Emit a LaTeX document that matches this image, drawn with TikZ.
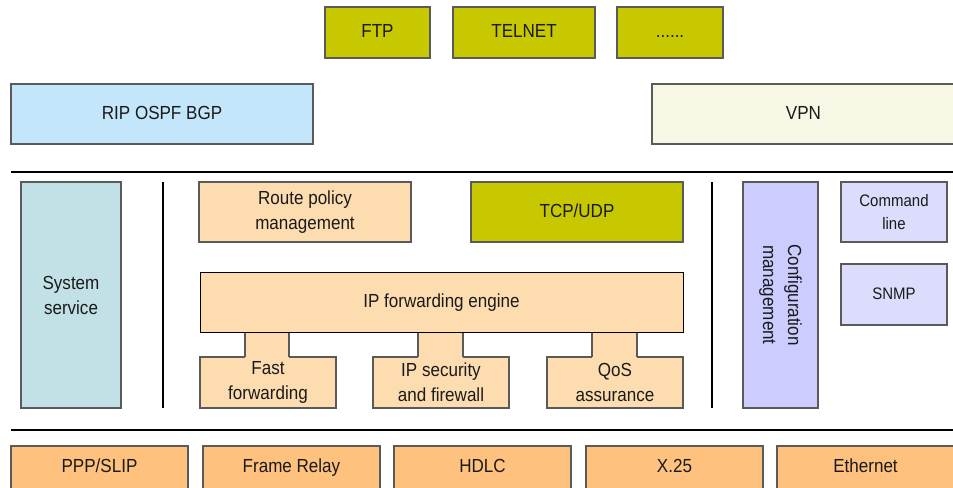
\documentclass[tikz,border=0pt]{standalone}
\usepackage{fontspec}
\setmainfont{Liberation Sans}[FakeStretch=0.9]
\definecolor{olive}{HTML}{C8C800}
\definecolor{ripblue}{HTML}{C4E6FA}
\definecolor{vpnc}{HTML}{F8F7E6}
\definecolor{sysc}{HTML}{C2E1E6}
\definecolor{peach}{HTML}{FDDDB0}
\definecolor{cfgc}{HTML}{CCCCFF}
\definecolor{cmdc}{HTML}{DCDCFC}
\definecolor{orng}{HTML}{FFC17E}
\definecolor{bord}{HTML}{5A5A5A}
\definecolor{txt}{HTML}{1A1A1A}
\tikzset{
  box/.style={draw=bord, line width=0.8pt, inner sep=0pt, align=center, text=txt,
    font=\fontsize{14.2}{18.75}\selectfont},
  small/.style={font=\fontsize{12.5}{17}\selectfont},
  one/.style={text height=0.82em, text depth=0pt},
  sep/.style={line width=1.6pt, black},
  wh/.style 2 args={minimum width={#1*0.75pt}, minimum height={#2*0.75pt}},
}
\begin{document}
\begin{tikzpicture}[x=0.75pt, y=-0.75pt]
\useasboundingbox (0,0) rectangle (953,487);
\clip (0,0) rectangle (953,487);
% top applications
\node[box, one, fill=olive, wh={105}{51}] (ftp) at (377.5,32.5) {FTP};
\node[box, one, fill=olive, wh={142}{51}] (telnet) at (524,32.5) {TELNET};
\node[box, one, fill=olive, wh={106}{51}] (more) at (670,32.5) {......};
% routing / vpn
\node[box, one, fill=ripblue, wh={302}{60}] (rip) at (162,114) {RIP OSPF BGP};
\node[box, one, fill=vpnc, wh={303}{60}] (vpn) at (803.5,114) {VPN};
% separator lines
\coordinate (l1a) at (11,172); \coordinate (l1b) at (960,172);
\draw[sep] (l1a) -- (l1b);
\coordinate (l2a) at (11,430); \coordinate (l2b) at (960,430);
\draw[sep] (l2a) -- (l2b);
\coordinate (v1a) at (163,182); \coordinate (v1b) at (163,408);
\draw[sep] (v1a) -- (v1b);
\coordinate (v2a) at (712,182); \coordinate (v2b) at (712,408);
\draw[sep] (v2a) -- (v2b);
% middle
\node[box, fill=sysc, wh={100}{226}] (sys) at (71,295) {System\\service};
\node[box, fill=peach, wh={212}{60}] (rpm) at (305,212) {Route policy\\management};
\node[box, one, fill=olive, wh={212}{60}] (tcp) at (577,212) {TCP/UDP};
\node[box, fill=cfgc, wh={75}{226}] (cfg) at (780.5,295) {};
\node[text=txt, font=\fontsize{14.2}{18.75}\selectfont, align=center, rotate=-90, inner sep=0pt] (cfgt) at (cfg.center) {Configuration\\management};
\node[box, small, fill=cmdc, wh={106}{60}] (cmd) at (894,212) {Command\\line};
\node[box, small, one, fill=cmdc, wh={106}{61}] (snmp) at (894,294.5) {SNMP};
% sub-modules with necks
\node[box, fill=peach, wh={136}{51}] (fast) at (268,382.5) {Fast\\forwarding};
\node[box, fill=peach, wh={136}{51}] (ipsec) at (441,382.5) {IP security\\and firewall};
\node[box, fill=peach, wh={136}{51}] (qos) at (615,382.5) {QoS\\assurance};
\foreach \n/\a/\b in {fast/245/289, ipsec/418/463, qos/592/637}{
  \fill[peach] (\a,330) rectangle (\b,357.6);
  \draw[bord, line width=0.8pt] (\a,330) -- (\a,357) (\b,330) -- (\b,357);
}
\node[box, one, draw=black, line width=0.7pt, fill=peach, wh={483}{60}] (ipfe) at (441.5,302) {IP forwarding engine};
% link layer
\node[box, one, fill=orng, wh={177}{43}] (ppp) at (99.5,467.5) {PPP/SLIP};
\node[box, one, fill=orng, wh={177}{43}] (fr) at (291.5,467.5) {Frame Relay};
\node[box, one, fill=orng, wh={177}{43}] (hdlc) at (482.5,467.5) {HDLC};
\node[box, one, fill=orng, wh={177}{43}] (x25) at (674.5,467.5) {X.25};
\node[box, one, fill=orng, wh={177}{43}] (eth) at (865.5,467.5) {Ethernet};
\end{tikzpicture}
\end{document}
